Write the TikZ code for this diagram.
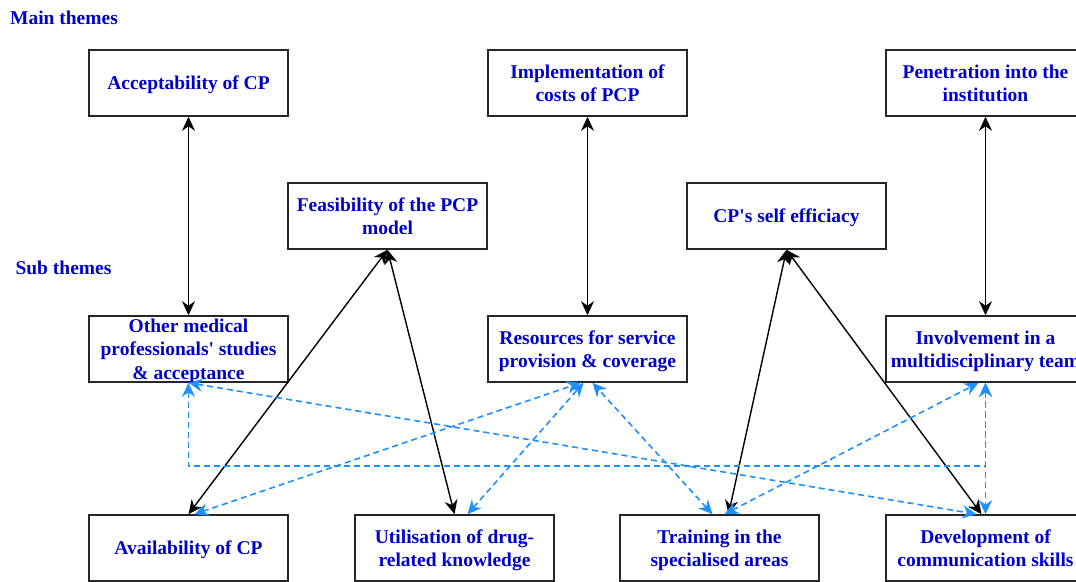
\documentclass[tikz,border=0pt]{standalone}
\usepackage{fontspec}
\setmainfont{Liberation Serif}
\usetikzlibrary{arrows.meta}
\definecolor{themetext}{RGB}{0,0,205}
\definecolor{linkblue}{RGB}{30,144,255}
\newcommand{\bw}{199pt}
\newcommand{\bh}{66pt}
\newcommand{\q}{\textquotesingle}

\begin{document}
\begin{tikzpicture}[x=1pt,y=-1pt,
  >={Stealth[length=14pt,width=13pt,inset=4.5pt]},
  rect/.style={draw=black!85, line width=1.6pt, rectangle, minimum width=\bw, minimum height=\bh, inner sep=0pt, align=center, text=themetext, font=\fontsize{19.5}{23.5}\selectfont\bfseries, text depth=-1.7pt, execute at begin node={\rule{0pt}{13.5pt}}},
  head/.style={text=themetext, inner sep=0pt, font=\fontsize{19.5}{23.5}\selectfont\bfseries},
  arr/.style={<->, line width=1.4pt},
  link/.style={<->, draw=linkblue, dash pattern=on 6pt off 4pt, line width=1.6pt}]
    \useasboundingbox (0,0) rectangle (1076,581);
    \clip (0,0) rectangle (1076,581);

    \node[head] (main) at (64,18) {Main themes};
    \node[head] (sub) at (63.5,268) {Sub themes};

    % Main themes
    \node[rect] (acc) at (188.5,83) {Acceptability of CP};
    \node[rect] (impl) at (587.5,83) {Implementation of\\costs of PCP};
    \node[rect] (pen) at (985.5,83) {Penetration into the\\institution};

    % Middle row
    \node[rect] (feas) at (387.5,216) {Feasibility of the PCP\\model};
    \node[rect] (eff) at (786.5,216) {CP\q s self efficiacy};

    % Sub themes
    \node[rect] (oth) at (188.5,349) {Other medical\\professionals\q\ studies\\\& acceptance};
    \node[rect] (res) at (587.5,349) {Resources for service\\provision \& coverage};
    \node[rect] (inv) at (985.5,349) {Involvement in a\\multidisciplinary team};

    % Bottom row
    \node[rect] (avail) at (188.5,548) {Availability of CP};
    \node[rect] (util) at (454.5,548) {Utilisation of drug-\\related knowledge};
    \node[rect] (train) at (719.5,548) {Training in the\\specialised areas};
    \node[rect] (dev) at (985.5,548) {Development of\\communication skills};

    % Solid links
    \draw[arr] (acc.south) -- (oth.north);
    \draw[arr] (impl.south) -- (res.north);
    \draw[arr] (pen.south) -- (inv.north);
    \draw[arr] (feas.south) -- (avail.north);
    \draw[arr] (feas.south) -- (util.north);
    \draw[arr] (eff.south) -- ([xshift=9pt]train.north);
    \draw[arr] (eff.south) -- ([xshift=-4pt]dev.north);

    % Dashed links
    \draw[link] (oth.south) -- ++(0,83) -| (inv.south);
    \draw[link] (inv.south) -- (dev.north);
    \draw[link] (oth.south) -- ([xshift=-9pt]dev.north);
    \draw[link] ([xshift=6pt]avail.north) -- ([xshift=-7pt]res.south);
    \draw[link] ([xshift=13pt]util.north) -- ([xshift=-4pt]res.south);
    \draw[link] ([xshift=-7pt]train.north) -- ([xshift=5pt]res.south);
    \draw[link] ([xshift=5pt]train.north) -- ([xshift=-7pt]inv.south);
\end{tikzpicture}
\end{document}
